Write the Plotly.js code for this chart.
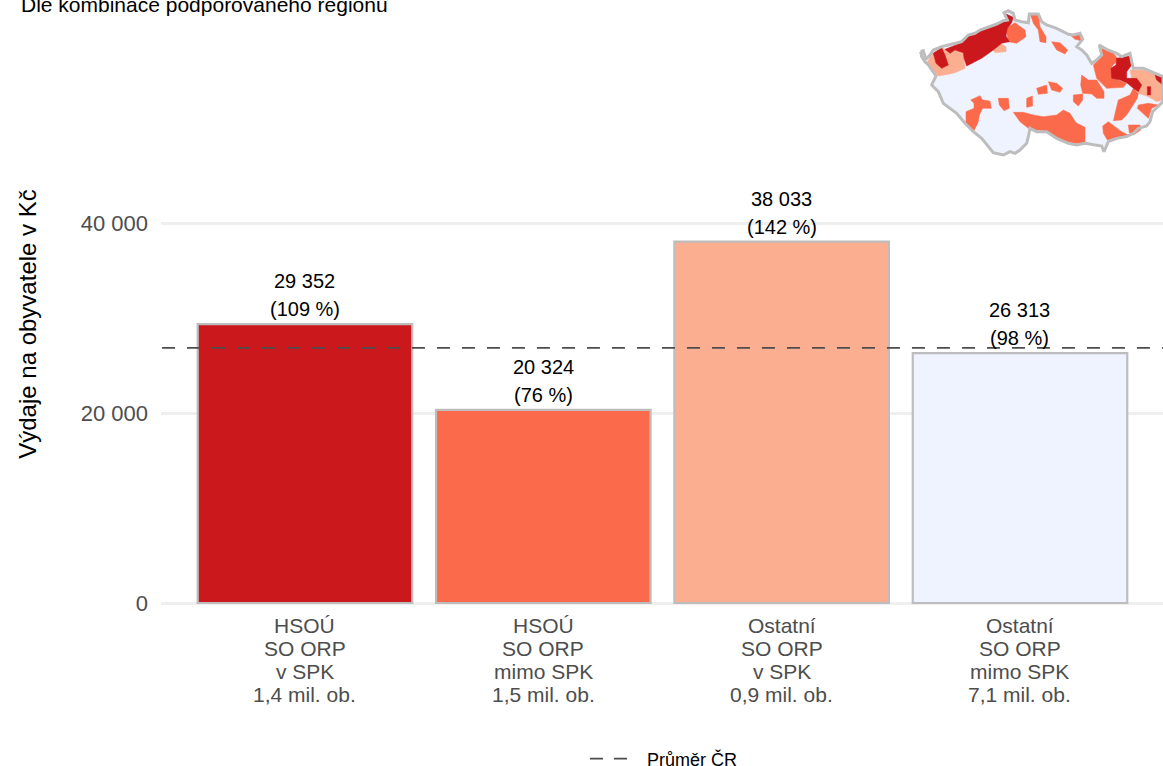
<!DOCTYPE html>
<html><head><meta charset="utf-8">
<script src="https://cdn.plot.ly/plotly-3.0.1.min.js"></script>
<style>html,body{margin:0;padding:0;background:#fff}</style></head>
<body><div id="chart" style="width:1163px;height:766px"></div>
<script>
const positions=[0,1,2,3];
const catLine1=['HSOÚ','HSOÚ','Ostatní','Ostatní'];
const catLine2=['SO ORP','SO ORP','SO ORP','SO ORP'];
const catLine3=['v SPK','mimo SPK','v SPK','mimo SPK'];
const catLine4=['1,4 mil. ob.','1,5 mil. ob.','0,9 mil. ob.','7,1 mil. ob.'];
const values=[29352,20324,38033,26313];
const valueLabels=['29 352','20 324','38 033','26 313'];
const pctLabels=['(109 %)','(76 %)','(142 %)','(98 %)'];
const barColors=['#CB181D','#FB6A4A','#FCAE91','#EFF3FF'];
const meanValue=26850;
const yTicks=[0,20000,40000];
const yTickText=['0','20 000','40 000'];

// Inset map (inset axes 0-789 / 0-510)
const outline=[[62,155],[70,152],[78,178],[90,165],[100,150],[125,140],[145,135],[165,130],[185,125],[205,105],[225,100],[240,90],[265,82],[290,72],[310,62],[322,60],[312,38],[325,32],[340,40],[345,60],[365,65],[385,68],[388,42],[415,42],[425,65],[440,75],[470,85],[490,95],[505,103],[520,105],[540,100],[548,118],[530,140],[545,150],[560,165],[575,190],[590,180],[605,165],[598,135],[620,148],[650,160],[665,170],[690,160],[695,185],[700,205],[730,205],[765,220],[789,230],[789,305],[775,318],[758,335],[750,365],[740,378],[715,385],[700,400],[680,410],[650,415],[625,425],[612,455],[605,438],[585,435],[555,430],[530,435],[505,430],[470,415],[440,395],[410,395],[390,385],[385,410],[380,430],[360,450],[345,460],[330,455],[310,465],[280,458],[265,440],[245,415],[220,395],[195,370],[170,340],[130,310],[115,275],[95,255],[108,228],[85,195],[75,185],[65,170],[62,155]];
const salmonAreas=[
[[80,190],[98,160],[125,143],[150,155],[165,150],[190,155],[195,205],[165,218],[150,222],[115,228],[100,212]],
[[280,150],[300,130],[318,140],[318,155],[285,158]],
[[690,210],[730,210],[765,222],[789,235],[789,300],[770,305],[745,290],[715,280],[700,260]]];
const redAreas=[
[[100,160],[125,143],[135,165],[145,195],[125,205],[108,190]],
[[135,148],[165,135],[185,128],[205,108],[225,102],[240,93],[265,85],[290,75],[310,65],[328,62],[314,40],[340,52],[335,68],[322,85],[318,108],[328,125],[305,130],[280,150],[245,175],[225,185],[200,198],[192,175],[190,158],[165,150],[150,160]],
[[650,175],[665,172],[690,168],[695,195],[680,215],[680,235],[710,235],[725,255],[715,275],[700,265],[680,248],[660,240],[635,235],[633,205],[648,195]],
[[765,225],[789,230],[789,255],[770,240]],
[[742,260],[752,260],[752,285],[742,285]]];
const orangeAreas=[
[[318,85],[345,68],[375,90],[378,110],[350,130],[325,125]],
[[392,45],[415,45],[420,80],[438,110],[438,128],[420,125],[415,90],[400,70]],
[[455,125],[480,128],[503,150],[495,162],[470,150]],
[[510,105],[540,100],[543,122],[525,118]],
[[580,195],[600,175],[605,145],[640,160],[655,178],[635,200],[640,235],[680,250],[670,262],[640,265],[620,265],[590,235]],
[[545,225],[565,240],[590,240],[612,275],[612,295],[590,295],[575,282],[548,280],[542,255]],
[[410,265],[440,255],[442,280],[415,283]],
[[445,245],[470,250],[488,265],[480,277],[455,270]],
[[520,285],[548,282],[548,300],[535,318],[520,305]],
[[380,295],[397,288],[398,318],[380,322]],
[[295,295],[325,295],[328,325],[312,332],[298,315]],
[[212,300],[240,287],[248,300],[270,303],[274,325],[248,325],[238,345],[235,365],[222,392],[198,370],[198,335],[222,325],[222,310]],
[[340,337],[370,337],[400,345],[430,350],[470,345],[490,330],[510,340],[528,368],[555,382],[555,430],[510,430],[470,412],[440,393],[410,390],[385,385],[360,365]],
[[655,300],[690,285],[700,265],[715,280],[712,295],[695,320],[680,345],[665,360],[640,362],[650,320]],
[[715,315],[745,310],[775,315],[755,325],[745,355],[725,335],[712,325]],
[[608,378],[625,365],[645,380],[665,395],[685,405],[650,412],[622,420],[610,400]],
[[685,375],[720,375],[722,390],[700,405],[688,398]]];

function mapTrace(polys,color){
  const x=[],y=[];
  polys.forEach(p=>{p.forEach(q=>{x.push(q[0]);y.push(q[1]);});x.push(p[0][0]);y.push(p[0][1]);x.push(null);y.push(null);});
  return {type:'scatter',mode:'lines',x,y,xaxis:'x2',yaxis:'y2',fill:'toself',fillcolor:color,
    line:{color:color,width:0.5},hoverinfo:'skip',showlegend:false};
}
const W=1163,H=766;
const y0px=603,topPx=43,botPx=605,pxPerUnit=380/40000;
const traces=[
 {type:'bar',x:positions,y:values,width:0.9,marker:{color:barColors,line:{color:'#BDBDBD',width:2.2}},hoverinfo:'skip',showlegend:false},
 {type:'scatter',mode:'lines',x:[-0.6,3.6],y:[meanValue,meanValue],name:'Průměr ČR',line:{color:'#4D4D4D',width:1.8,dash:'13px,12px'},hoverinfo:'skip',showlegend:false},
 {type:'scatter',mode:'lines',x:[null],y:[null],name:'Průměr ČR',line:{color:'#4D4D4D',width:1.8,dash:'13px,11px,13px,60px'},hoverinfo:'skip',showlegend:true},
 mapTrace([outline],'#EFF3FF'),
 mapTrace(orangeAreas,'#FB6A4A'),
 mapTrace(salmonAreas,'#FCAE91'),
 mapTrace(redAreas,'#CB181D'),
 {type:'scatter',mode:'lines',x:outline.map(p=>p[0]),y:outline.map(p=>p[1]),xaxis:'x2',yaxis:'y2',line:{color:'#BDBDBD',width:3},hoverinfo:'skip',showlegend:false}
];
const annotations=[];
positions.forEach((p,i)=>{
  [[catLine1,-22],[catLine2,-45],[catLine3,-68],[catLine4,-91]].forEach(([arr,shift])=>{
    annotations.push({x:p,y:0,xref:'x',yref:'y',yshift:shift,text:arr[i],showarrow:false,xanchor:'center',yanchor:'middle',font:{family:'Liberation Sans',size:21,color:'#4D4D4D'}});
  });
  annotations.push({x:p,y:values[i],xref:'x',yref:'y',yshift:43,text:valueLabels[i],showarrow:false,xanchor:'center',yanchor:'middle',font:{family:'Liberation Sans',size:20,color:'#000'}});
  annotations.push({x:p,y:values[i],xref:'x',yref:'y',yshift:15,text:pctLabels[i],showarrow:false,xanchor:'center',yanchor:'middle',font:{family:'Liberation Sans',size:20,color:'#000'}});
});
annotations.push({x:20/W,y:1-5/H,xref:'paper',yref:'paper',text:'Dle kombinace podporovaného regionu',showarrow:false,xanchor:'left',yanchor:'middle',borderpad:0,font:{family:'Liberation Sans',size:21,color:'#000'}});
const layout={
 width:W,height:H,margin:{l:0,r:0,t:0,b:0,pad:0,autoexpand:false},paper_bgcolor:'#fff',plot_bgcolor:'#fff',
 font:{family:'Liberation Sans'},
 xaxis:{domain:[161/W,1],range:[-0.604,3.6],showgrid:false,zeroline:false,showticklabels:false,ticks:'',fixedrange:true,showline:false},
 yaxis:{domain:[(H-botPx)/H,(H-topPx)/H],range:[-(botPx-y0px)/pxPerUnit,(y0px-topPx)/pxPerUnit],tickmode:'array',tickvals:yTicks,ticktext:yTickText,
   showgrid:true,gridcolor:'#EFEFEF',gridwidth:3,zeroline:false,ticks:'',ticklabelstandoff:12,tickfont:{size:22,color:'#4D4D4D'},
   title:{text:'Výdaje na obyvatele v Kč',font:{size:24,color:'#000'},standoff:37},fixedrange:true},
 xaxis2:{domain:[900/W,1],range:[0,789],visible:false,anchor:'y2',fixedrange:true},
 yaxis2:{domain:[(H-170)/H,1],range:[510,0],visible:false,anchor:'x2',fixedrange:true},
 legend:{orientation:'h',x:(590-5)/W,xanchor:'left',y:1-759/H,yanchor:'middle',font:{size:18,color:'#000'},itemwidth:52,bgcolor:'rgba(0,0,0,0)'},
 annotations,showlegend:true
};
Plotly.newPlot('chart',traces,layout,{staticPlot:true,displayModeBar:false});
</script></body></html>
